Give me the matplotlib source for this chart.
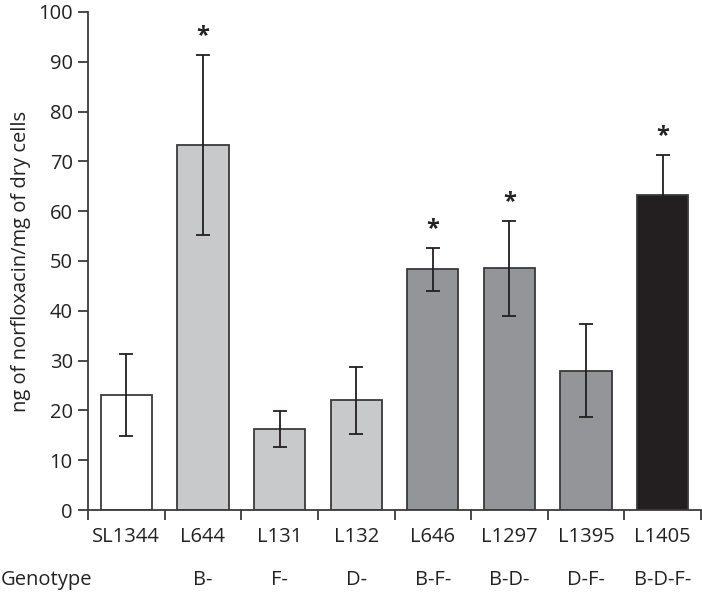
import matplotlib
matplotlib.use("Agg")
import matplotlib.pyplot as plt
import numpy as np

strains = ["SL1344", "L644", "L131", "L132", "L646", "L1297", "L1395", "L1405"]
genotypes = ["", "B-", "F-", "D-", "B-F-", "B-D-", "D-F-", "B-D-F-"]
values = [23.1, 73.3, 16.3, 22.0, 48.3, 48.5, 28.0, 63.3]
errors = [8.2, 18.1, 3.6, 6.7, 4.4, 9.6, 9.4, 8.0]
significant = [False, True, False, False, True, True, False, True]
colors = ["#ffffff", "#c8c9cb", "#c8c9cb", "#c8c9cb", "#939598", "#939598", "#939598", "#231f20"]
yticks = [0, 10, 20, 30, 40, 50, 60, 70, 80, 90, 100]

plt.rcParams['font.family'] = ['Open Sans', 'DejaVu Sans']
fig = plt.figure(figsize=(7.02, 5.95), dpi=100)
ax = fig.add_axes([88/702, 1-510/595, (701-88)/702, (510-12)/595])

x = np.arange(len(strains))
edge = "#3a3a3a"
txt = "#222222"
fs = 14.5
ax.bar(x, values, width=0.67, color=colors, edgecolor=edge, linewidth=1.3, zorder=2)
ax.errorbar(x, values, yerr=errors, fmt='none', ecolor="#231f20", elinewidth=1.3,
            capsize=5, capthick=1.3, zorder=3)
for xi, v, e, s in zip(x, values, errors, significant):
    if s:
        ax.text(xi, v + e + 1.3, "*", ha='center', va='bottom', fontsize=17,
                fontweight='bold', color=txt)

ax.set_xlim(-0.5, len(strains) - 0.5)
ax.set_ylim(0, 100)
ax.set_yticks(yticks)
ax.tick_params(axis='y', direction='out', length=7, width=1.3, color=edge, labelsize=fs,
               pad=4, labelcolor=txt)
ax.set_xticks(np.arange(-0.5, len(strains) + 0.5, 1.0))
ax.set_xticklabels([])
ax.tick_params(axis='x', direction='out', length=7, width=1.3, color=edge)
for sp in ['top', 'right']:
    ax.spines[sp].set_visible(False)
for sp in ['left', 'bottom']:
    ax.spines[sp].set_linewidth(1.3)
    ax.spines[sp].set_color(edge)

trans = ax.get_xaxis_transform()
for xi, s, g in zip(x, strains, genotypes):
    ax.text(xi, -0.055, s, transform=trans, ha='center', va='center', fontsize=fs, color=txt)
    if g:
        ax.text(xi, -0.14, g, transform=trans, ha='center', va='center', fontsize=fs, color=txt)
fig.text(1/702, 1-580/595, "Genotype", ha='left', va='center', fontsize=fs, color=txt)

ax.set_ylabel("ng of norfloxacin/mg of dry cells", fontsize=fs, color=txt)
ax.yaxis.set_label_coords(-0.093, 0.5)

fig.savefig("out.png", dpi=100)
